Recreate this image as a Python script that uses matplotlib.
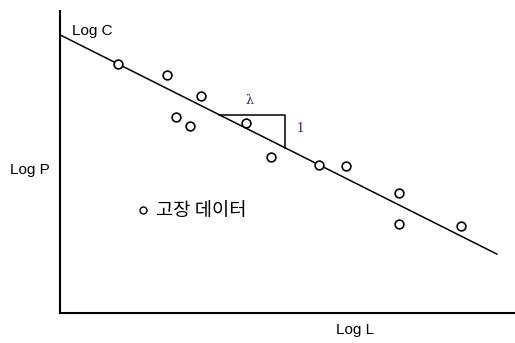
import matplotlib.pyplot as plt
import numpy as np

# failure data points (Log L, Log P)
log_l = [1.27, 2.35, 3.10, 2.55, 2.86, 4.09, 4.64, 5.69, 6.29, 7.45, 7.45, 8.81]
log_p = [8.25, 7.88, 7.19, 6.49, 6.19, 6.29, 5.17, 4.90, 4.87, 3.97, 2.95, 2.88]

# fitted line: Log P = Log C - lambda * Log L
log_c = 9.21
slope = 0.756
line_x = [0.0, 9.60]

# slope triangle
tri_x0 = 3.49
tri_x1 = 4.95

plt.rcParams['font.family'] = ['Liberation Sans', 'Noto Sans CJK KR', 'DejaVu Sans']

fig = plt.figure(figsize=(5.15, 3.43), dpi=100)
ax = fig.add_axes([60 / 515, 30 / 343, 455 / 515, 302 / 343])
ax.set_xlim(0, 10)
ax.set_ylim(0, 10)

lx = np.array(line_x)
ax.plot(lx, log_c - slope * lx, color='black', lw=1.1)
ax.plot(log_l, log_p, 'o', ms=6.3, mfc='white', mec='black', mew=1.2)

tri_top = log_c - slope * tri_x0
tri_bot = log_c - slope * tri_x1
ax.plot([tri_x0, tri_x1, tri_x1], [tri_top, tri_top, tri_bot], color='black', lw=1.1)
ax.text((tri_x0 + tri_x1) / 2 - 0.05, tri_top + 0.25, 'λ', family='DejaVu Serif',
        fontsize=9, color='#2a2a80', ha='center', va='bottom')
ax.text(tri_x1 + 0.25, (tri_top + tri_bot) / 2 + 0.1, '1', family='Liberation Serif',
        fontsize=10, color='#3a1060', ha='left', va='center')

ax.text(0.26, 9.35, 'Log C', fontsize=11, ha='left', va='center')
ax.text(-1.1, 4.75, 'Log P', fontsize=11, ha='left', va='center', clip_on=False)
ax.text(6.48, -0.56, 'Log L', fontsize=11, ha='center', va='center', clip_on=False)

# legend
ax.plot([1.82], [3.41], 'o', ms=5, mfc='white', mec='black', mew=1.0)
ax.text(2.1, 3.41, '고장 데이터', family=['Noto Sans CJK KR', 'DejaVu Sans'],
        fontsize=13.5, ha='left', va='center')

for side in ['top', 'right']:
    ax.spines[side].set_visible(False)
for side in ['left', 'bottom']:
    ax.spines[side].set_linewidth(1.5)
ax.set_xticks([])
ax.set_yticks([])

fig.savefig('out.png', dpi=100)
